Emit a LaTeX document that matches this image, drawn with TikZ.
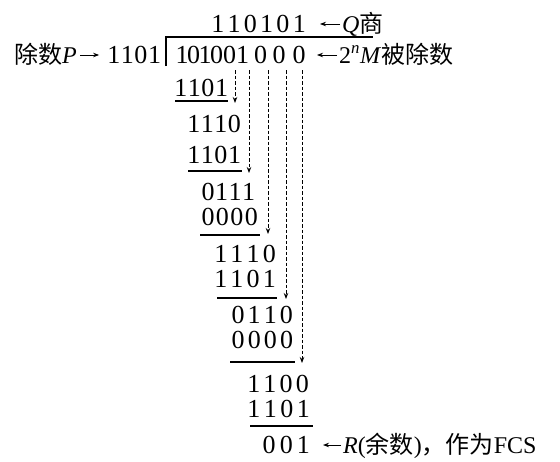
\documentclass[tikz,border=0pt]{standalone}
\usepackage{fontspec}
\setmainfont{Liberation Serif}
\newfontfamily\cjk{Noto Sans CJK SC}
\usetikzlibrary{arrows.meta}
\newcommand\dfont{\fontsize{26}{30}\selectfont}
\newcommand\lfont{\fontsize{24}{28}\selectfont}
\def\rowsep{1pt}
\def\rowdigitsA#1{#1\rowdigitsB}
\def\rowdigitsB#1{\ifx\relax#1\else\kern\rowsep #1\expandafter\rowdigitsB\fi}
\newcommand\digs[2]{\def\rowsep{#1}\rowdigitsA#2\relax}
\tikzset{
  dig/.style={inner sep=0pt, anchor=base west, font=\dfont},
  lab/.style={inner sep=0pt, anchor=base west, font=\lfont},
  rule/.style={line width=1.1pt},
  larr/.style={line width=0.9pt, -{Stealth[length=6pt,width=4.5pt]}},
  darr/.style={line width=1pt, dash pattern=on 3.5pt off 2pt, -{Stealth[length=6pt,width=4.5pt]}}
}
\begin{document}
\begin{tikzpicture}[x=1pt,y=-1pt]
\useasboundingbox[fill=white] (0,0) rectangle (560,461);
% quotient and dividend
\node[dig] (q) at (211.1,32) {\digs{3.3pt}{110101}};
\node[dig] (m) at (175.5,63) {1\kern-1.5pt 0\kern-1.5pt 1\kern-1.5pt 0\kern0pt 0\kern0pt 1\kern5pt 0\kern5.5pt 0\kern7pt 0};
\node[dig] (p) at (107.1,63) {\digs{0.6pt}{1101}};
% labels
\node[lab] (qlab) at (342,32) {\textit{Q}{\cjk 商}};
\node[lab] (mlab) at (339,63) {2\textsuperscript{\textit{n}}\textit{M}{\cjk 被除数}};
\node[lab] (plab) at (14,63) {{\cjk 除数}\textit{P}};
\node[lab] (rlab) at (343,453) {\textit{R}({\cjk 余数}){\cjk ，作为}FCS};
% rows
\node[dig] (r3) at (174.1,96) {\digs{0.6pt}{1101}};
\node[dig] (r4) at (187.1,132) {\digs{0.5pt}{1110}};
\node[dig] (r5) at (187.1,163) {\digs{0.6pt}{1101}};
\node[dig] (r6) at (201.4,200) {\digs{0.5pt}{0111}};
\node[dig] (r7) at (201.4,225) {\digs{1.4pt}{0000}};
\node[dig] (r8) at (214.1,262) {\digs{3.2pt}{1110}};
\node[dig] (r9) at (214.1,287) {\digs{3.2pt}{1101}};
\node[dig] (r10) at (231.4,323) {\digs{3.1pt}{0110}};
\node[dig] (r11) at (231.4,348) {\digs{3.2pt}{0000}};
\node[dig] (r12) at (247.1,392) {\digs{3.2pt}{1100}};
\node[dig] (r13) at (247.1,417) {\digs{3.5pt}{1101}};
\node[dig] (r14) at (262.4,453) {\digs{4.2pt}{001}};
% bracket
\draw[rule] (166,66) -- (166,37) -- (373,37);
% underlines
\draw[rule] (175,101) -- (228,101);
\draw[rule] (188,171) -- (242,171);
\draw[rule] (200,235) -- (260,235);
\draw[rule] (217,298) -- (277,298);
\draw[rule] (230,362) -- (295,362);
\draw[rule] (250,426) -- (313,426);
% label arrows
\draw[larr] ([xshift=-2pt,yshift=8pt]qlab.base west) -- ++(-20,0);
\draw[larr] ([xshift=-2pt,yshift=8pt]mlab.base west) -- ++(-20,0);
\draw[larr] ([xshift=-2pt,yshift=8pt]rlab.base west) -- ++(-18,0);
\draw[larr] ([xshift=3pt,yshift=8pt]plab.base east) -- ([xshift=-8pt,yshift=8pt]p.base west);
% dashed carry-down arrows
\coordinate (t5) at (235,70); \coordinate (h5) at (235,103);
\coordinate (t6) at (249,70); \coordinate (h6) at (249,173);
\coordinate (t7) at (268,70); \coordinate (h7) at (268,234);
\coordinate (t8) at (286,70); \coordinate (h8) at (286,299);
\coordinate (t9) at (302,70); \coordinate (h9) at (302,363);
\draw[darr] (t5) -- (h5);
\draw[darr] (t6) -- (h6);
\draw[darr] (t7) -- (h7);
\draw[darr] (t8) -- (h8);
\draw[darr] (t9) -- (h9);
\end{tikzpicture}
\end{document}
